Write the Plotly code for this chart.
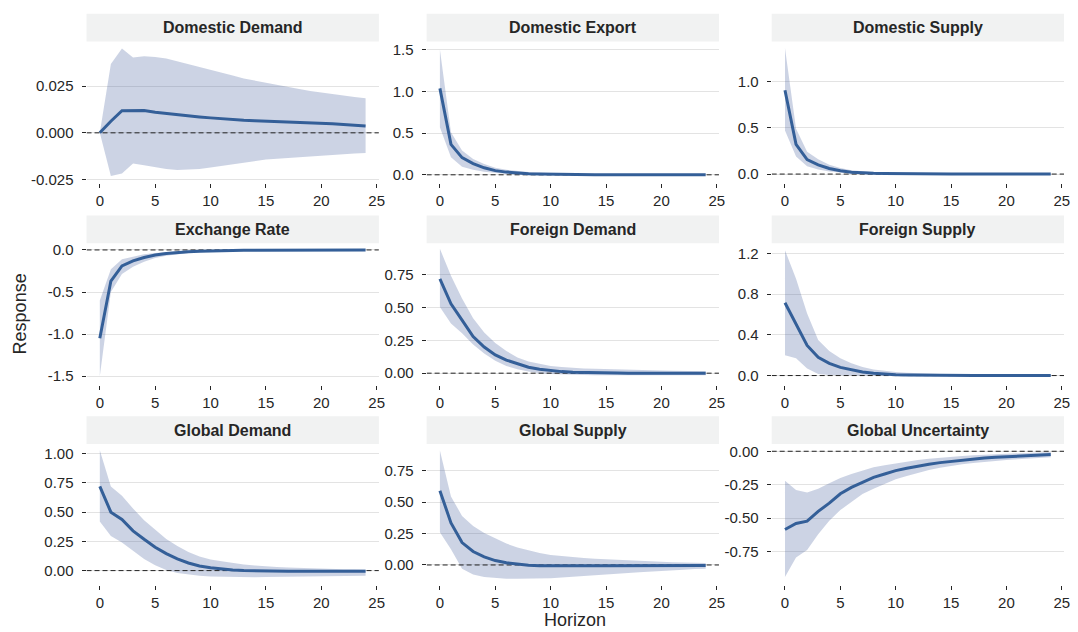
import plotly.graph_objects as go
from plotly.subplots import make_subplots

# Impulse responses (median with credible band) over a 0..24 horizon
horizon = list(range(25))

shocks = ["Domestic Demand", "Domestic Export", "Domestic Supply",
          "Exchange Rate", "Foreign Demand", "Foreign Supply",
          "Global Demand", "Global Supply", "Global Uncertainty"]

dd_mid = [0, 0.0062, 0.0118, 0.0120, 0.0119, 0.0110, 0.0103, 0.0097, 0.0091, 0.0085, 0.0080, 0.0075, 0.0071,
          0.0067, 0.0065, 0.0063, 0.0060, 0.0058, 0.0055, 0.0053, 0.0051, 0.0048, 0.0045, 0.0041, 0.0037]
dd_hi = [0, 0.0368, 0.0451, 0.0403, 0.0409, 0.0406, 0.0398, 0.0382, 0.0368, 0.0353, 0.0338, 0.0322, 0.0306,
         0.0291, 0.0279, 0.0267, 0.0256, 0.0245, 0.0234, 0.0224, 0.0215, 0.0207, 0.0199, 0.0192, 0.0185]
dd_lo = [0, -0.0231, -0.0217, -0.0164, -0.0173, -0.0185, -0.0193, -0.0199, -0.0198, -0.0193, -0.0185, -0.0176,
         -0.0166, -0.0157, -0.0149, -0.0143, -0.0138, -0.0134, -0.0129, -0.0124, -0.0120, -0.0117, -0.0113,
         -0.0110, -0.0108]

de_mid = [1.035, 0.364, 0.206, 0.135, 0.084, 0.050, 0.032, 0.021, 0.014, 0.010, 0.007, 0.005, 0.004, 0.003,
          0.002, 0.002, 0.001, 0.001, 0.001, 0.001, 0.0, 0.0, 0.0, 0.0, 0.0]
de_hi = [1.50, 0.51, 0.29, 0.19, 0.13, 0.085, 0.06, 0.042, 0.032, 0.025, 0.02, 0.016, 0.013, 0.011, 0.009,
         0.008, 0.007, 0.006, 0.005, 0.005, 0.004, 0.004, 0.003, 0.003, 0.003]
de_lo = [0.57, 0.21, 0.095, 0.06, 0.035, 0.02, 0.01, 0.004, 0.0, -0.002, -0.003, -0.003, -0.003, -0.003,
         -0.003, -0.003, -0.003, -0.003, -0.003, -0.003, -0.003, -0.003, -0.003, -0.003, -0.003]

ds_mid = [0.904, 0.32, 0.157, 0.10, 0.06, 0.035, 0.02, 0.012, 0.008, 0.005, 0.003, 0.002, 0.001, 0.001,
          0.0, 0.0, 0.0, 0.0, 0.0, 0.0, 0.0, 0.0, 0.0, 0.0, 0.0]
ds_hi = [1.36, 0.49, 0.24, 0.16, 0.10, 0.065, 0.042, 0.028, 0.02, 0.015, 0.011, 0.009, 0.007, 0.006, 0.005,
         0.004, 0.004, 0.003, 0.003, 0.003, 0.002, 0.002, 0.002, 0.002, 0.002]
ds_lo = [0.47, 0.19, 0.085, 0.05, 0.028, 0.015, 0.007, 0.002, 0.0, -0.002, -0.003, -0.003, -0.003, -0.003,
         -0.003, -0.003, -0.003, -0.003, -0.003, -0.003, -0.003, -0.003, -0.003, -0.003, -0.003]

er_mid = [-1.05, -0.37, -0.19, -0.13, -0.09, -0.06, -0.042, -0.03, -0.021, -0.015, -0.011, -0.008, -0.006,
          -0.005, -0.004, -0.003, -0.003, -0.002, -0.002, -0.002, -0.001, -0.001, -0.001, -0.001, -0.001]
er_hi = [-0.60, -0.23, -0.11, -0.08, -0.05, -0.035, -0.022, -0.015, -0.01, -0.006, -0.004, -0.003, -0.002,
         -0.001, 0.0, 0.0, 0.0, 0.0, 0.0, 0.0, 0.0, 0.0, 0.0, 0.0, 0.0]
er_lo = [-1.50, -0.50, -0.285, -0.20, -0.14, -0.095, -0.068, -0.05, -0.036, -0.027, -0.02, -0.016, -0.013,
         -0.011, -0.009, -0.008, -0.007, -0.006, -0.005, -0.005, -0.004, -0.004, -0.004, -0.003, -0.003]

fd_mid = [0.72, 0.53, 0.405, 0.28, 0.20, 0.14, 0.10, 0.07, 0.045, 0.03, 0.02, 0.012, 0.008, 0.005, 0.003,
          0.002, 0.001, 0.0, 0.0, 0.0, 0.0, 0.0, 0.0, 0.0, 0.0]
fd_hi = [0.95, 0.745, 0.57, 0.42, 0.31, 0.23, 0.17, 0.12, 0.09, 0.07, 0.055, 0.047, 0.04, 0.036, 0.033,
         0.03, 0.028, 0.026, 0.024, 0.022, 0.02, 0.019, 0.017, 0.016, 0.015]
fd_lo = [0.505, 0.38, 0.305, 0.22, 0.15, 0.095, 0.055, 0.03, 0.012, 0.0, -0.006, -0.01, -0.012, -0.014,
         -0.015, -0.015, -0.015, -0.015, -0.015, -0.015, -0.015, -0.015, -0.015, -0.015, -0.015]

fs_mid = [0.715, 0.51, 0.295, 0.18, 0.12, 0.08, 0.055, 0.035, 0.022, 0.014, 0.009, 0.006, 0.004, 0.003,
          0.002, 0.001, 0.001, 0.0, 0.0, 0.0, 0.0, 0.0, 0.0, 0.0, 0.0]
fs_hi = [1.23, 0.95, 0.61, 0.35, 0.24, 0.17, 0.12, 0.085, 0.06, 0.045, 0.035, 0.027, 0.021, 0.017, 0.014,
         0.012, 0.010, 0.009, 0.008, 0.007, 0.006, 0.005, 0.005, 0.004, 0.004]
fs_lo = [0.20, 0.17, 0.07, 0.015, 0.005, 0.0, -0.002, -0.003, -0.003, -0.003, -0.003, -0.003, -0.003,
         -0.003, -0.003, -0.003, -0.003, -0.003, -0.003, -0.003, -0.003, -0.003, -0.003, -0.003, -0.003]

gd_mid = [0.72, 0.50, 0.437, 0.34, 0.268, 0.20, 0.145, 0.10, 0.065, 0.04, 0.025, 0.012, 0.005, 0.0, -0.003,
          -0.005, -0.006, -0.006, -0.006, -0.006, -0.006, -0.005, -0.005, -0.005, -0.005]
gd_hi = [1.03, 0.72, 0.64, 0.53, 0.43, 0.35, 0.27, 0.21, 0.16, 0.12, 0.095, 0.08, 0.065, 0.052, 0.043,
         0.035, 0.03, 0.026, 0.022, 0.018, 0.015, 0.013, 0.012, 0.011, 0.01]
gd_lo = [0.42, 0.295, 0.24, 0.17, 0.10, 0.045, 0.005, -0.02, -0.035, -0.045, -0.05, -0.053, -0.055, -0.056,
         -0.056, -0.055, -0.054, -0.053, -0.052, -0.051, -0.05, -0.049, -0.048, -0.047, -0.045]

gs_mid = [0.59, 0.335, 0.178, 0.107, 0.065, 0.035, 0.018, 0.006, -0.002, -0.006, -0.007, -0.007, -0.007,
          -0.007, -0.007, -0.006, -0.006, -0.006, -0.005, -0.005, -0.005, -0.005, -0.004, -0.004, -0.004]
gs_hi = [0.91, 0.545, 0.39, 0.31, 0.255, 0.21, 0.17, 0.14, 0.115, 0.095, 0.08, 0.07, 0.06, 0.055, 0.05,
         0.045, 0.04, 0.036, 0.032, 0.028, 0.025, 0.022, 0.02, 0.017, 0.015]
gs_lo = [0.26, 0.126, -0.03, -0.075, -0.095, -0.105, -0.11, -0.11, -0.11, -0.108, -0.105, -0.1, -0.095,
         -0.09, -0.083, -0.075, -0.07, -0.064, -0.058, -0.052, -0.045, -0.041, -0.037, -0.033, -0.03]

gu_mid = [-0.585, -0.54, -0.523, -0.45, -0.388, -0.318, -0.27, -0.23, -0.195, -0.17, -0.145, -0.127, -0.11,
          -0.097, -0.085, -0.075, -0.066, -0.058, -0.05, -0.045, -0.04, -0.036, -0.032, -0.028, -0.025]
gu_hi = [-0.22, -0.289, -0.309, -0.28, -0.24, -0.20, -0.17, -0.145, -0.12, -0.105, -0.09, -0.077, -0.065,
         -0.056, -0.048, -0.04, -0.035, -0.03, -0.026, -0.023, -0.02, -0.016, -0.012, -0.008, -0.005]
gu_lo = [-0.94, -0.795, -0.738, -0.62, -0.52, -0.44, -0.38, -0.32, -0.28, -0.245, -0.21, -0.185, -0.16,
         -0.14, -0.124, -0.11, -0.098, -0.088, -0.079, -0.071, -0.065, -0.059, -0.054, -0.049, -0.045]

# y tick values and their printed labels for each panel
y_ticks = [
    ([-0.025, 0.0, 0.025], ["-0.025", "0.000", "0.025"]),
    ([0.0, 0.5, 1.0, 1.5], ["0.0", "0.5", "1.0", "1.5"]),
    ([0.0, 0.5, 1.0], ["0.0", "0.5", "1.0"]),
    ([-1.5, -1.0, -0.5, 0.0], ["-1.5", "-1.0", "-0.5", "0.0"]),
    ([0.0, 0.25, 0.5, 0.75], ["0.00", "0.25", "0.50", "0.75"]),
    ([0.0, 0.4, 0.8, 1.2], ["0.0", "0.4", "0.8", "1.2"]),
    ([0.0, 0.25, 0.5, 0.75, 1.0], ["0.00", "0.25", "0.50", "0.75", "1.00"]),
    ([0.0, 0.25, 0.5, 0.75], ["0.00", "0.25", "0.50", "0.75"]),
    ([-0.75, -0.5, -0.25, 0.0], ["-0.75", "-0.50", "-0.25", "0.00"]),
]
x_ticks = [0, 5, 10, 15, 20, 25]

series = [(dd_mid, dd_lo, dd_hi), (de_mid, de_lo, de_hi), (ds_mid, ds_lo, ds_hi),
          (er_mid, er_lo, er_hi), (fd_mid, fd_lo, fd_hi), (fs_mid, fs_lo, fs_hi),
          (gd_mid, gd_lo, gd_hi), (gs_mid, gs_lo, gs_hi), (gu_mid, gu_lo, gu_hi)]

# ---- styling / layout ----
W, H = 1078, 632
LINE = "#345f98"
BAND = "rgba(59,84,150,0.26)"
TEXT = "#262626"
FONT = "Liberation Sans, Arial, sans-serif"
X_RANGE = [-1.2, 25.2]
y_ranges = [[-0.0268, 0.0488], [-0.098, 1.596], [-0.096, 1.43],
            [-1.602, 0.079], [-0.088, 0.992], [-0.09, 1.298],
            [-0.127, 1.082], [-0.163, 0.962], [-1.004, 0.054]]

col_px = [(87, 381), (429, 723), (776, 1070)]
row_px = [(40, 183), (244, 387), (447, 590)]   # (top, bottom) of plotting areas
STRIP_H = 28

fig = make_subplots(rows=3, cols=3)

for k, (name, (mid, lo, hi)) in enumerate(zip(shocks, series)):
    r, c = divmod(k, 3)
    row, col = r + 1, c + 1
    fig.add_trace(go.Scatter(x=horizon, y=hi, mode="lines", line=dict(width=0, color=LINE),
                             hoverinfo="skip", showlegend=False), row=row, col=col)
    fig.add_trace(go.Scatter(x=horizon, y=lo, mode="lines", line=dict(width=0, color=LINE),
                             fill="tonexty", fillcolor=BAND, hoverinfo="skip", showlegend=False),
                  row=row, col=col)
    # dashed zero reference across the full panel width
    fig.add_trace(go.Scatter(x=X_RANGE, y=[0, 0], mode="lines",
                             line=dict(color="#222222", width=1, dash="5px,3px"),
                             hoverinfo="skip", showlegend=False), row=row, col=col)
    fig.add_trace(go.Scatter(x=horizon, y=mid, mode="lines", line=dict(color=LINE, width=3),
                             name=name, showlegend=False), row=row, col=col)

    sfx = "" if k == 0 else str(k + 1)
    x0, x1 = col_px[c]
    top, bot = row_px[r]
    fig.layout["xaxis" + sfx].update(
        domain=[x0 / W, x1 / W], range=X_RANGE, tickvals=x_ticks,
        ticktext=[str(t) for t in x_ticks], showgrid=False, zeroline=False,
        showline=False, ticks="outside", ticklen=4, tickwidth=1, tickcolor=TEXT,
        tickfont=dict(family=FONT, size=15, color=TEXT), ticklabelstandoff=0)
    tv, tt = y_ticks[k]
    fig.layout["yaxis" + sfx].update(
        domain=[1 - bot / H, 1 - top / H], range=y_ranges[k], tickvals=tv, ticktext=tt,
        showgrid=True, gridcolor="#e3e3e3", gridwidth=1.3, zeroline=False, showline=False,
        ticks="outside", ticklen=4, tickwidth=1, tickcolor=TEXT,
        tickfont=dict(family=FONT, size=15, color=TEXT), ticklabelstandoff=5)

    # facet title strip
    xref = "x" + sfx
    yref = "y" + sfx
    fig.add_shape(type="rect", xref=xref + " domain", yref=yref + " domain",
                  x0=0, x1=1, y0=1, y1=1 + STRIP_H / (bot - top),
                  fillcolor="#f1f2f2", line=dict(width=0), layer="below")
    fig.add_annotation(text="<b>" + name + "</b>", xref=xref + " domain", yref=yref + " domain",
                       x=0.5, y=1 + (STRIP_H / 2) / (bot - top), xanchor="center", yanchor="middle",
                       showarrow=False, font=dict(family=FONT, size=16, color=TEXT))

fig.add_annotation(text="Horizon", xref="paper", yref="paper", x=(87 + 1070) / 2 / W, y=0,
                   xanchor="center", yanchor="bottom", yshift=-5, showarrow=False,
                   font=dict(family=FONT, size=18, color=TEXT))
fig.add_annotation(text="Response", xref="paper", yref="paper", x=20 / W, y=1 - 315 / H,
                   xanchor="center", yanchor="middle", textangle=-90, showarrow=False,
                   font=dict(family=FONT, size=18, color=TEXT))

fig.update_layout(width=W, height=H, margin=dict(l=0, r=0, t=0, b=0),
                  paper_bgcolor="white", plot_bgcolor="white", showlegend=False,
                  font=dict(family=FONT, color=TEXT))

fig.write_html("out.html")
